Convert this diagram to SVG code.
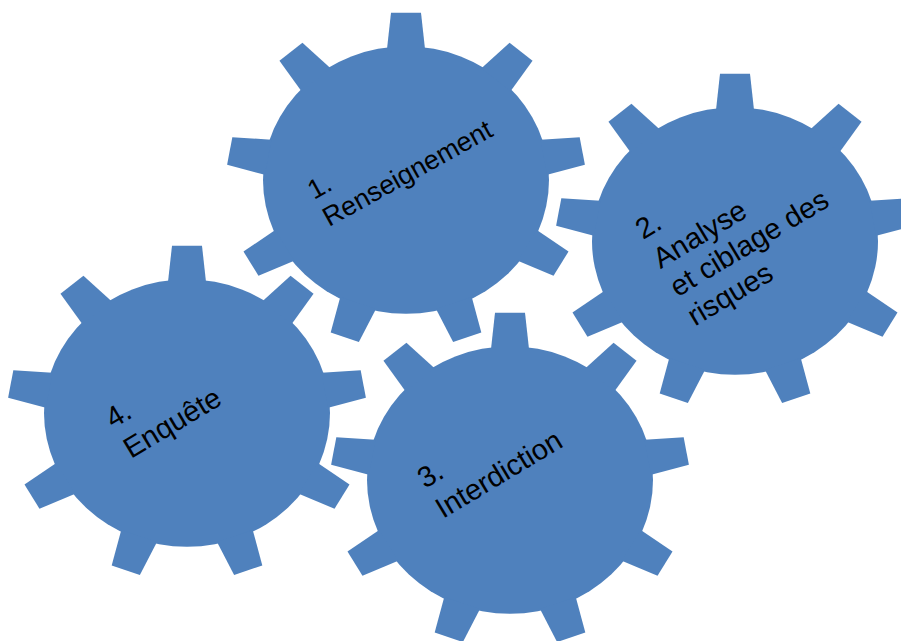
<svg xmlns="http://www.w3.org/2000/svg" xmlns:xlink="http://www.w3.org/1999/xlink" width="901" height="641" viewBox="0 0 901 641">
  <style>
    .gear { fill: #4F81BD; }
    .label { font-family: "Liberation Sans", Arial, sans-serif; font-size: 29px; fill: #000000; }
    .label.small { font-size: 27px; }
  </style>
  <defs>
    <!-- one tooth pointing straight up from the hub centre -->
    <path id="tooth" d="M-19,-140 L-15,-179 L15,-179 L19,-140 Z"/>
    <!-- nine-tooth gear centred on the origin, slightly flattened vertically -->
    <g id="gearShape" transform="scale(1,0.935)">
      <circle r="143"/>
      <use xlink:href="#tooth"/>
      <use xlink:href="#tooth" transform="rotate(40)"/>
      <use xlink:href="#tooth" transform="rotate(80)"/>
      <use xlink:href="#tooth" transform="rotate(120)"/>
      <use xlink:href="#tooth" transform="rotate(160)"/>
      <use xlink:href="#tooth" transform="rotate(200)"/>
      <use xlink:href="#tooth" transform="rotate(240)"/>
      <use xlink:href="#tooth" transform="rotate(280)"/>
      <use xlink:href="#tooth" transform="rotate(320)"/>
    </g>
  </defs>

  <rect width="901" height="641" fill="#ffffff"/>

  <g id="connectors"></g>

  <g id="gear1">
    <use xlink:href="#gearShape" class="gear" transform="translate(406,180)"/>
    <text class="label small" transform="rotate(-29 314 200)" x="314" y="200">
      <tspan x="314" dy="0">1.</tspan>
      <tspan x="314" dy="31">Renseignement</tspan>
    </text>
  </g>

  <g id="gear2">
    <use xlink:href="#gearShape" class="gear" transform="translate(735,241)"/>
    <text class="label" transform="rotate(-31 643 240)" x="643" y="240">
      <tspan x="643" dy="0">2.</tspan>
      <tspan x="643" dy="34">Analyse</tspan>
      <tspan x="643" dy="33">et ciblage des</tspan>
      <tspan x="643" dy="34">risques</tspan>
    </text>
  </g>

  <g id="gear4">
    <use xlink:href="#gearShape" class="gear" transform="translate(187,413)"/>
    <text class="label" transform="rotate(-31 113 429)" x="113" y="429">
      <tspan x="113" dy="0">4.</tspan>
      <tspan x="113" dy="35">Enquête</tspan>
    </text>
  </g>

  <g id="gear3">
    <use xlink:href="#gearShape" class="gear" transform="translate(510,480)"/>
    <text class="label" transform="rotate(-31 425 489)" x="425" y="489">
      <tspan x="425" dy="0">3.</tspan>
      <tspan x="425" dy="35">Interdiction</tspan>
    </text>
  </g>
</svg>
